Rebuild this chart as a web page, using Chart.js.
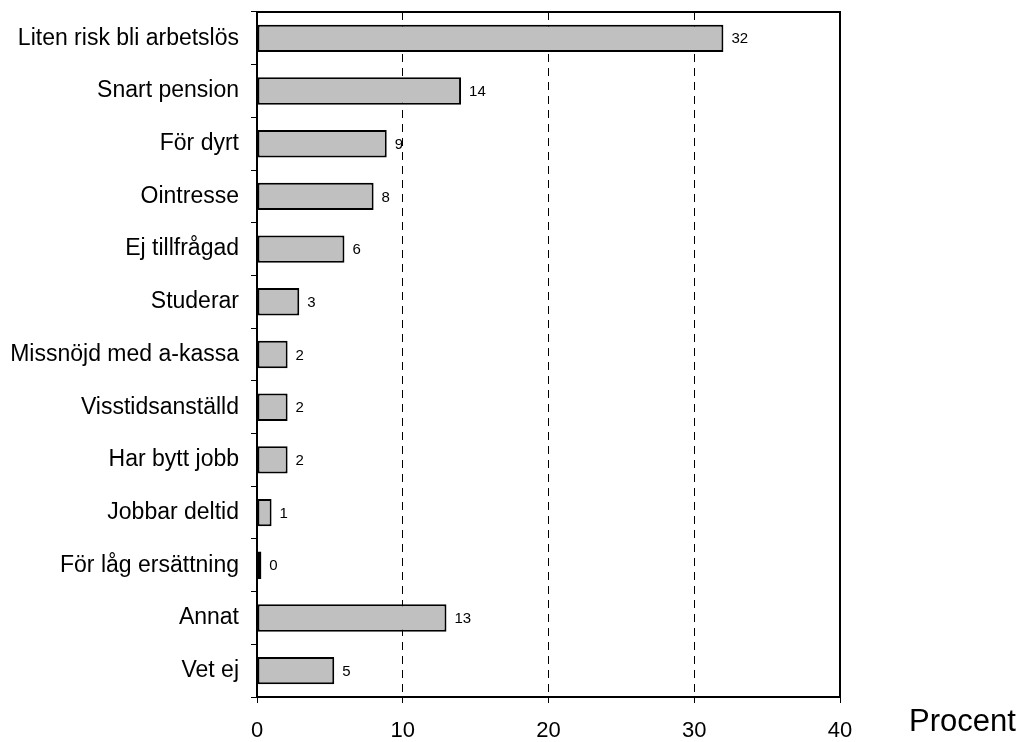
<!DOCTYPE html>
<html>
<head>
<meta charset="utf-8">
<script src="https://cdn.jsdelivr.net/npm/chart.js@4"></script>
<style>
  html, body { margin: 0; padding: 0; background: #fff; }
  #wrap { width: 1023px; height: 742px; }
</style>
</head>
<body>
<div id="wrap"><canvas id="chart" width="1023" height="742"></canvas></div>
<script>
const categories = [
  'Liten risk bli arbetslös',
  'Snart pension',
  'För dyrt',
  'Ointresse',
  'Ej tillfrågad',
  'Studerar',
  'Missnöjd med a-kassa',
  'Visstidsanställd',
  'Har bytt jobb',
  'Jobbar deltid',
  'För låg ersättning',
  'Annat',
  'Vet ej'
];
const values = [32, 14, 8.9, 8.0, 6.0, 2.9, 2.1, 2.1, 2.1, 1.0, 0.3, 13.0, 5.3];
const xMin = 0;
const xMax = 40;
const xStep = 10;
const axisTitle = 'Procent';

const FONT = '"Liberation Sans", Arial, Helvetica, sans-serif';

// frame round the plot, value labels next to bars, axis title to the right
const extras = {
  id: 'extras',
  afterDatasetsDraw(chart) {
    const { ctx, chartArea: a } = chart;
    ctx.save();
    ctx.strokeStyle = '#000';
    ctx.lineWidth = 2;
    ctx.strokeRect(a.left, a.top, a.right - a.left, a.bottom - a.top);

    ctx.fillStyle = '#000';
    ctx.textAlign = 'left';
    ctx.textBaseline = 'middle';
    ctx.font = '15px ' + FONT;
    const meta = chart.getDatasetMeta(0);
    meta.data.forEach((bar, i) => {
      ctx.fillText(String(Math.round(values[i])), bar.x + 8, bar.y + 1);
    });

    ctx.font = '31px ' + FONT;
    ctx.fillText(axisTitle, a.right + 69, a.bottom + 25);
    ctx.restore();
  }
};

const ctx = document.getElementById('chart').getContext('2d');
const chart = new Chart(ctx, {
  type: 'bar',
  data: {
    labels: categories,
    datasets: [{
      data: values,
      backgroundColor: '#c0c0c0',
      borderColor: '#000',
      borderWidth: 2,
      borderSkipped: false,
      categoryPercentage: 1,
      barPercentage: 0.52
    }]
  },
  options: {
    indexAxis: 'y',
    responsive: false,
    animation: false,
    devicePixelRatio: 1,
    layout: { padding: { left: 0, right: 183, top: 0, bottom: 0 } },
    plugins: {
      legend: { display: false },
      tooltip: { enabled: false }
    },
    scales: {
      x: {
        type: 'linear',
        min: xMin,
        max: xMax,
        ticks: {
          stepSize: xStep,
          color: '#000',
          font: { family: FONT, size: 22 },
          padding: 15
        },
        grid: {
          color: '#000',
          lineWidth: 1,
          tickLength: 6,
          tickBorderDash: []
        },
        border: { display: false, dash: [8, 6] },
        afterFit: s => { s.height = 45; }
      },
      y: {
        type: 'category',
        ticks: {
          color: '#000',
          font: { family: FONT, size: 23 },
          padding: 12
        },
        grid: {
          color: '#000',
          drawOnChartArea: false,
          offset: true,
          tickLength: 6
        },
        border: { display: false },
        afterFit: s => {
          s.width = 257;
          s.paddingTop = 12;
          s.paddingBottom = 0;
        }
      }
    }
  },
  plugins: [extras]
});
</script>
</body>
</html>
